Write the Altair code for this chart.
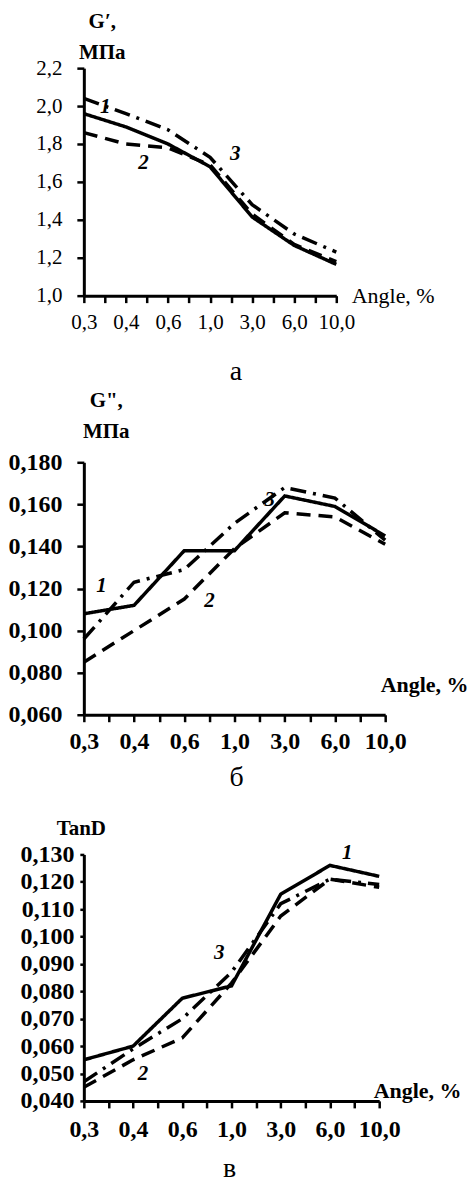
import altair as alt
import pandas as pd

# ---- data -------------------------------------------------------------
angles = ["0,3", "0,4", "0,6", "1,0", "3,0", "6,0", "10,0"]
pos = [0, 1, 2, 3, 4, 5, 6]
series_names = ["1", "2", "3"]

# panel a: G', MPa
ga_1 = [1.96, 1.89, 1.80, 1.68, 1.415, 1.265, 1.165]
ga_2 = [1.86, 1.80, 1.78, 1.69, 1.43, 1.27, 1.18]
ga_3 = [2.04, 1.96, 1.875, 1.73, 1.48, 1.325, 1.23]

# panel b: G'', MPa
gb_1 = [0.108, 0.112, 0.138, 0.138, 0.164, 0.159, 0.145]
gb_2 = [0.085, 0.100, 0.115, 0.139, 0.156, 0.154, 0.141]
gb_3 = [0.096, 0.123, 0.129, 0.151, 0.168, 0.163, 0.143]

# panel c: TanD
tc_1 = [0.055, 0.060, 0.0775, 0.082, 0.1155, 0.126, 0.122]
tc_2 = [0.045, 0.055, 0.063, 0.083, 0.1075, 0.121, 0.118]
tc_3 = [0.047, 0.059, 0.070, 0.087, 0.112, 0.121, 0.119]

# curve number labels (x position on category index, y value)
lab_a_x = [0.51, 1.42, 3.6]
lab_a_y = [1.993, 1.70, 1.745]
lab_b_x = [0.35, 2.5, 3.7]
lab_b_y = [0.121, 0.114, 0.162]
lab_c_x = [5.35, 1.2, 2.75]
lab_c_y = [0.1305, 0.050, 0.094]

ticks_a = [1.0, 1.2, 1.4, 1.6, 1.8, 2.0, 2.2]
ticks_b = [0.06, 0.08, 0.10, 0.12, 0.14, 0.16, 0.18]
ticks_c = [0.04, 0.05, 0.06, 0.07, 0.08, 0.09, 0.10, 0.11, 0.12, 0.13]

SERIF = "Liberation Serif"


def long_df(s1, s2, s3):
    rows = []
    for name, vals in zip(series_names, [s1, s2, s3]):
        for p, a, v in zip(pos, angles, vals):
            rows.append({"pos": p, "angle": a, "series": name, "value": v})
    return pd.DataFrame(rows)


x_label_expr = (
    "datum.value % 1 === 0 ? " + str(angles) + "[datum.value] : ''"
)


def panel(df, lab_x, lab_y, ydom, yticks, yfmt, width, height,
          ytitle, ytitle_x, ytitle_y, xtitle_x, xtitle_y,
          caption, cap_dx, cap_offset, lab_size, lab_weight,
          xlab_pad, ylab_pad, ytick, title_weight, xtitle_weight):
    x_axis = alt.Axis(
        values=[i * 0.5 for i in range(13)],
        labelExpr=x_label_expr,
        title="Angle, %",
        titleFont=SERIF, titleFontSize=22, titleFontWeight=xtitle_weight,
        titleAlign="left", titleBaseline="middle", titleAngle=0,
        titleX=xtitle_x, titleY=xtitle_y, titleColor="black",
        labelFont=SERIF, labelFontSize=lab_size, labelFontWeight=lab_weight,
        labelColor="black", labelPadding=xlab_pad, labelFlush=False,
        labelOverlap=False,
        domainColor="black", domainWidth=3, tickColor="black",
        tickWidth=2.5, tickSize=7, grid=False,
    )
    y_axis = alt.Axis(
        values=yticks,
        labelExpr="replace(format(datum.value, '" + yfmt + "'), '.', ',')",
        title=ytitle,
        titleFont=SERIF, titleFontSize=21, titleFontWeight=title_weight,
        titleAlign="center", titleBaseline="top", titleAngle=0,
        titleX=ytitle_x, titleY=ytitle_y, titleLineHeight=31,
        titleColor="black",
        labelFont=SERIF, labelFontSize=lab_size, labelFontWeight=lab_weight,
        labelColor="black", labelPadding=ylab_pad, labelFlush=False,
        labelOverlap=False,
        domainColor="black", domainWidth=3, tickColor="black",
        tickWidth=2.5, tickSize=ytick, grid=False,
    )
    xs = alt.Scale(domain=[0, 6], nice=False, zero=False)
    ys = alt.Scale(domain=ydom, nice=False, zero=False)
    lines = alt.Chart(df).mark_line(strokeWidth=3.5, color="black").encode(
        x=alt.X("pos:Q", scale=xs, axis=x_axis),
        y=alt.Y("value:Q", scale=ys, axis=y_axis),
        strokeDash=alt.StrokeDash(
            "series:N",
            scale=alt.Scale(domain=series_names,
                            range=[[1, 0], [14, 8], [16, 7, 3, 7]]),
            legend=None,
        ),
        detail="series:N",
    )
    labels = alt.Chart(pd.DataFrame({"x": lab_x, "y": lab_y,
                                     "t": series_names})).mark_text(
        font=SERIF, fontSize=21, fontStyle="italic", fontWeight="bold",
        color="black",
    ).encode(x=alt.X("x:Q", scale=xs, axis=x_axis),
             y=alt.Y("y:Q", scale=ys, axis=y_axis), text="t:N")
    return alt.layer(lines, labels).properties(
        width=width, height=height,
        title=alt.TitleParams(caption, orient="bottom", font=SERIF,
                              fontSize=28, fontWeight="normal", color="black",
                              dx=cap_dx, offset=cap_offset),
    )


pa = panel(long_df(ga_1, ga_2, ga_3), lab_a_x, lab_a_y, [1.0, 2.2], ticks_a,
           ".1f", 253, 228, ["G′,", "МПа"], 18, -58, 268, 0,
           "а", 26, 26, 21, "normal", 9, 15, 7, "bold", "normal")
pb = panel(long_df(gb_1, gb_2, gb_3), lab_b_x, lab_b_y, [0.06, 0.18], ticks_b,
           ".3f", 302, 253, ["G\",", "МПа"], 22, -73, 297, -30,
           "б", 2, 10, 24, "bold", 8, 15, 7, "bold", "bold")
pc = panel(long_df(tc_1, tc_2, tc_3), lab_c_x, lab_c_y, [0.04, 0.13], ticks_c,
           ".3f", 296, 247, ["TanD"], -3, -37, 290, -10,
           "в", -2, 13, 24, "bold", 10, 6, 4, "bold", "bold")


def spacer(h):
    return alt.Chart(pd.DataFrame({"s": [0]})).mark_point(opacity=0).encode(
        x=alt.X("s:Q", axis=None), y=alt.Y("s:Q", axis=None)
    ).properties(width=1, height=h)


chart = alt.vconcat(pa, spacer(167), pb, spacer(140), pc,
                    spacing=0, bounds="flush").properties(
    padding={"left": 0, "top": 1, "right": 0, "bottom": 0}
).configure(background="white").configure_view(stroke=None)

chart.save("out.html", embed_options={"renderer": "svg", "actions": False})
